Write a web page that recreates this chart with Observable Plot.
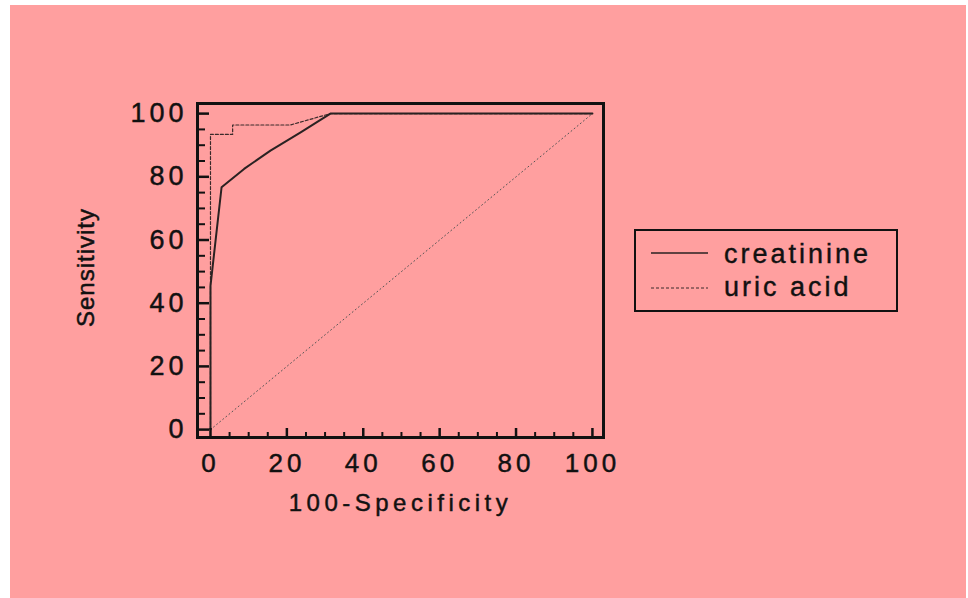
<!DOCTYPE html>
<html><head><meta charset="utf-8">
<script src="https://cdn.jsdelivr.net/npm/d3@7"></script>
<script src="https://cdn.jsdelivr.net/npm/@observablehq/plot@0.6"></script>
<style>
html,body{margin:0;padding:0;background:#fff;}
#page{position:relative;width:968px;height:598px;overflow:hidden;}
#bg{position:absolute;left:10px;top:5px;width:956px;height:593px;background:#ff9f9f;}
#chart{position:absolute;left:0;top:0;}
#legend{position:absolute;left:634px;top:229px;}
</style></head><body>
<div id="page"><div id="bg"></div><div id="chart"></div><div id="legend"></div></div>
<script>
// ---- data ----
const seriesNames = ["creatinine", "uric acid"];
const creatinineX = [0, 0, 2.9, 8.8, 15.7, 23.5, 31.4, 100];
const creatinineY = [0, 45.5, 76.7, 82.5, 88.3, 94, 100, 100];
const uricX = [0, 0, 5.8, 5.8, 20.9, 31.4, 100];
const uricY = [0, 93.4, 93.4, 96.4, 96.4, 100, 100];
const diagX = [0, 100];
const diagY = [0, 100];
const majorTicks = [0, 20, 40, 60, 80, 100];
const minorTicks = [5, 10, 15, 25, 30, 35, 45, 50, 55, 65, 70, 75, 85, 90, 95];
const xTitle = "100-Specificity";
const yTitle = "Sensitivity";

const toRows = (xs, ys) => xs.map((x, i) => ({x, y: ys[i]}));
const creat = toRows(creatinineX, creatinineY);
const uric = toRows(uricX, uricY);
const diag = toRows(diagX, diagY);

const ink = "#111";
const styles = [
  {stroke: "#2a2222", strokeWidth: 2, dash: null},
  {stroke: "#3a2a2a", strokeWidth: 1.2, dash: "3,2"}
];
const textStroke = {stroke: ink, strokeWidth: 0.45};

const plot = Plot.plot({
  width: 968, height: 598,
  marginLeft: 197, marginRight: 365, marginTop: 103, marginBottom: 161,
  x: {domain: [-3.4, 102.9]},
  y: {domain: [-2.5, 103.2]},
  style: {background: "transparent", fontFamily: "'Liberation Sans', Arial, sans-serif", fontSize: "26px", color: ink},
  marks: [
    Plot.line(diag, {x: "x", y: "y", stroke: "#555", strokeWidth: 1, strokeDasharray: "1,3"}),
    Plot.line(uric, {x: "x", y: "y", stroke: styles[1].stroke, strokeWidth: styles[1].strokeWidth, strokeDasharray: styles[1].dash}),
    Plot.line(creat, {x: "x", y: "y", stroke: styles[0].stroke, strokeWidth: styles[0].strokeWidth}),
    Plot.axisY(majorTicks, {anchor: "left", tickSize: -12, tickFormat: () => "", label: null, strokeWidth: 2.5, stroke: ink}),
    Plot.axisY(minorTicks, {anchor: "left", tickSize: -8, tickFormat: () => "", label: null, strokeWidth: 2, stroke: ink}),
    Plot.axisY(majorTicks, {anchor: "left", tickSize: 0, tickPadding: 10, label: null, fontSize: 27, fill: ink}),
    Plot.axisX(majorTicks, {anchor: "bottom", tickSize: -9, tickFormat: () => "", label: null, strokeWidth: 2.5, stroke: ink}),
    Plot.axisX(minorTicks, {anchor: "bottom", tickSize: -5, tickFormat: () => "", label: null, strokeWidth: 2, stroke: ink}),
    Plot.axisX(majorTicks, {anchor: "bottom", tickSize: 0, tickPadding: 16, label: null, fontSize: 26, fill: ink}),
    Plot.text([xTitle], {frameAnchor: "bottom", dy: 73, lineAnchor: "bottom", textAnchor: "middle", fontSize: 24, fill: ink, ...textStroke}),
    Plot.text([yTitle], {frameAnchor: "left", dx: -104, dy: -3, rotate: -90, lineAnchor: "bottom", textAnchor: "middle", fontSize: 24, fill: ink, ...textStroke}),
    Plot.frame({stroke: ink, strokeWidth: 3})
  ]
});
document.getElementById("chart").appendChild(plot);

// letter spacing / weight to match the wide, heavy text of the reference
d3.select(plot).selectAll('g[aria-label="y-axis tick label"] text, g[aria-label="x-axis tick label"] text')
  .style("letter-spacing", "4px").attr("stroke", ink).attr("stroke-width", 0.45);
d3.select(plot).selectAll("text").each(function() {
  const t = this.textContent;
  if (t === xTitle) d3.select(this).style("letter-spacing", "4.5px");
  if (t === yTitle) d3.select(this).style("letter-spacing", "1px");
});

// legend
const lg = d3.select("#legend").append("svg").attr("width", 264).attr("height", 83)
  .style("font-family", "'Liberation Sans', Arial, sans-serif");
lg.append("rect").attr("x", 1).attr("y", 1).attr("width", 262).attr("height", 81)
  .attr("fill", "none").attr("stroke", ink).attr("stroke-width", 2);
seriesNames.forEach((name, i) => {
  const cy = 24 + i * 35;
  lg.append("line").attr("x1", 17).attr("x2", 74).attr("y1", cy).attr("y2", cy)
    .attr("stroke", styles[i].stroke).attr("stroke-width", i === 0 ? 1.6 : 1)
    .attr("stroke-dasharray", styles[i].dash);
  lg.append("text").attr("x", 90).attr("y", cy + (i === 0 ? 10 : 8)).text(name)
    .attr("fill", ink).attr("stroke", ink).attr("stroke-width", 0.4)
    .style("font-size", "27px").style("letter-spacing", "3px");
});
</script>
</body></html>
